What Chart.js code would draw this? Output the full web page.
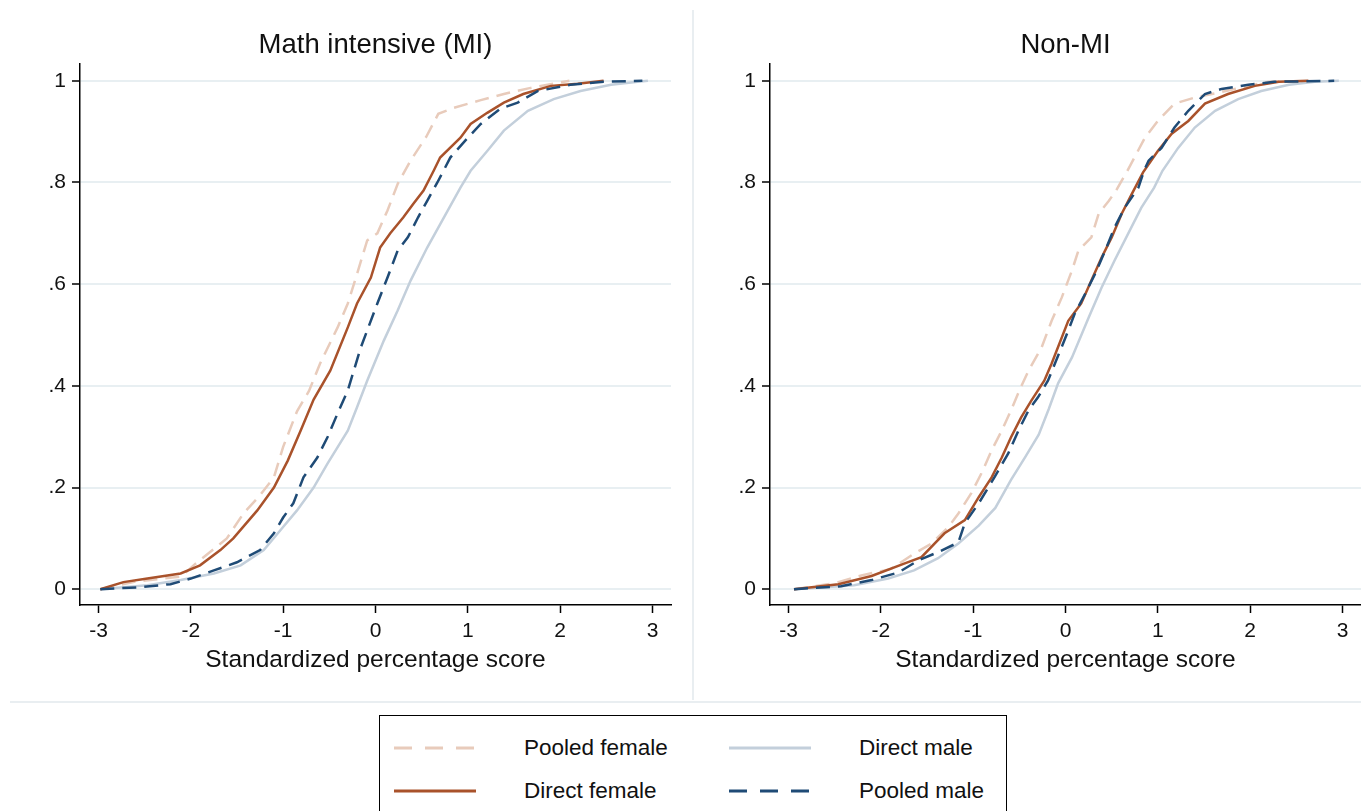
<!DOCTYPE html>
<html>
<head>
<meta charset="utf-8">
<title>CDF of standardized percentage score</title>
<script src="https://cdn.jsdelivr.net/npm/chart.js@4.4.1/dist/chart.umd.min.js"></script>
<style>
    body { margin: 0; background: #fff; font-family: "Liberation Sans", Arial, sans-serif; }
    #page { position: relative; width: 1361px; height: 811px; overflow: hidden; background: #fff; }
    .panel { position: absolute; top: 0; height: 700px; }
    #left { left: 0; width: 693px; }
    #right { left: 693px; width: 668px; }
    #vdiv { position: absolute; left: 692px; top: 10px; width: 2px; height: 690px; background: #e9eef1; }
    #hdiv { position: absolute; left: 10px; top: 701px; width: 1351px; height: 2px; background: #e9eef1; }
    #legend { position: absolute; left: 379px; top: 715px; width: 628px; height: 120px;
              border: 1.5px solid #000; box-sizing: border-box; }
    .legend-item { position: absolute; height: 30px; font-size: 22.5px; color: #111; }
    .legend-item svg { position: absolute; left: 0; top: 0; }
    .legend-item span { position: absolute; left: 130px; top: 2px; white-space: nowrap; }
</style>
</head>
<body>
<div id="page">
    <div class="panel" id="left"><canvas id="chartMI"></canvas></div>
    <div class="panel" id="right"><canvas id="chartNonMI"></canvas></div>
    <div id="vdiv"></div>
    <div id="hdiv"></div>
    <div id="legend"></div>
</div>
<script>
// Achsen
const xTicks = [-3, -2, -1, 0, 1, 2, 3];
const yTicks = [0, 0.2, 0.4, 0.6, 0.8, 1];
const yTickLabels = ['0', '.2', '.4', '.6', '.8', '1'];

// Math intensive (MI): [score, kumulierter Anteil]
const miPooledFemale = [[-2.98,0],[-2.6,0.015],[-2.1,0.025],[-1.97,0.047],[-1.61,0.10],[-1.43,0.149],[-1.25,0.185],[-1.10,0.22],[-1.0,0.28],[-0.85,0.35],[-0.72,0.39],[-0.60,0.444],[-0.41,0.515],[-0.30,0.562],[-0.20,0.62],[-0.09,0.686],[0.02,0.70],[0.13,0.745],[0.24,0.797],[0.38,0.843],[0.55,0.89],[0.68,0.935],[0.85,0.947],[1.14,0.962],[1.39,0.974],[1.68,0.986],[1.97,0.996],[2.1,1.0]];
const miDirectFemale = [[-2.98,0],[-2.73,0.014],[-2.47,0.021],[-2.11,0.031],[-1.90,0.047],[-1.68,0.077],[-1.54,0.10],[-1.28,0.155],[-1.10,0.20],[-0.95,0.253],[-0.81,0.312],[-0.67,0.373],[-0.49,0.43],[-0.30,0.515],[-0.20,0.562],[-0.05,0.613],[0.05,0.672],[0.16,0.70],[0.30,0.731],[0.41,0.758],[0.52,0.784],[0.63,0.823],[0.70,0.849],[0.92,0.888],[1.03,0.915],[1.21,0.937],[1.39,0.957],[1.60,0.974],[1.90,0.99],[2.19,0.994],[2.47,1.0]];
const miDirectMale = [[-2.98,0],[-2.47,0.008],[-2.11,0.018],[-1.75,0.031],[-1.46,0.047],[-1.21,0.077],[-1.03,0.116],[-0.85,0.155],[-0.67,0.20],[-0.52,0.247],[-0.30,0.312],[-0.20,0.358],[-0.09,0.41],[0.09,0.489],[0.24,0.548],[0.38,0.607],[0.56,0.672],[0.74,0.731],[0.92,0.79],[1.03,0.823],[1.21,0.862],[1.39,0.902],[1.65,0.941],[1.93,0.964],[2.22,0.98],[2.55,0.992],[2.84,0.998],[2.95,1.0]];
const miPooledMale = [[-2.98,0],[-2.55,0.004],[-2.22,0.01],[-2.0,0.021],[-1.75,0.037],[-1.50,0.053],[-1.25,0.077],[-1.10,0.11],[-1.0,0.141],[-0.89,0.169],[-0.78,0.22],[-0.63,0.259],[-0.52,0.299],[-0.41,0.346],[-0.30,0.391],[-0.16,0.475],[0.02,0.562],[0.13,0.613],[0.24,0.666],[0.35,0.692],[0.46,0.731],[0.56,0.764],[0.67,0.80],[0.81,0.849],[1.0,0.888],[1.14,0.915],[1.35,0.945],[1.54,0.957],[1.76,0.98],[2.11,0.992],[2.47,0.998],[2.89,1.0]];

// Non-MI
const nmPooledFemale = [[-2.94,0],[-2.5,0.012],[-2.21,0.027],[-1.89,0.04],[-1.64,0.07],[-1.45,0.09],[-1.27,0.122],[-1.16,0.149],[-1.02,0.189],[-0.91,0.228],[-0.80,0.273],[-0.69,0.312],[-0.59,0.352],[-0.49,0.395],[-0.40,0.43],[-0.26,0.475],[-0.15,0.528],[-0.04,0.574],[0.07,0.627],[0.14,0.666],[0.28,0.692],[0.36,0.739],[0.47,0.764],[0.55,0.785],[0.67,0.823],[0.86,0.888],[1.0,0.921],[1.18,0.955],[1.40,0.967],[1.69,0.978],[1.98,0.99],[2.2,0.998],[2.4,1.0]];
const nmDirectFemale = [[-2.94,0],[-2.46,0.01],[-2.10,0.026],[-1.74,0.051],[-1.56,0.063],[-1.31,0.11],[-1.09,0.136],[-0.94,0.181],[-0.80,0.22],[-0.69,0.259],[-0.59,0.299],[-0.48,0.338],[-0.37,0.371],[-0.23,0.41],[-0.15,0.444],[0.03,0.528],[0.17,0.562],[0.28,0.607],[0.39,0.652],[0.50,0.692],[0.61,0.739],[0.72,0.778],[0.84,0.82],[1.0,0.862],[1.15,0.896],[1.33,0.921],[1.51,0.955],[1.76,0.974],[2.05,0.99],[2.31,0.998],[2.63,1.0]];
const nmDirectMale = [[-2.94,0],[-2.29,0.008],[-1.92,0.021],[-1.64,0.037],[-1.38,0.061],[-1.16,0.09],[-0.94,0.125],[-0.76,0.16],[-0.59,0.215],[-0.44,0.259],[-0.29,0.304],[-0.18,0.355],[-0.08,0.405],[0.07,0.456],[0.25,0.534],[0.39,0.593],[0.53,0.646],[0.68,0.70],[0.82,0.75],[0.96,0.79],[1.05,0.823],[1.22,0.868],[1.40,0.908],[1.62,0.941],[1.87,0.964],[2.12,0.98],[2.42,0.992],[2.70,0.998],[2.96,1.0]];
const nmPooledMale = [[-2.94,0],[-2.43,0.006],[-2.10,0.018],[-1.81,0.033],[-1.59,0.057],[-1.38,0.073],[-1.16,0.092],[-1.09,0.13],[-0.94,0.169],[-0.77,0.22],[-0.62,0.267],[-0.51,0.312],[-0.40,0.352],[-0.30,0.377],[-0.19,0.41],[0.0,0.495],[0.10,0.542],[0.21,0.58],[0.32,0.62],[0.43,0.666],[0.53,0.711],[0.64,0.75],[0.79,0.79],[0.85,0.823],[0.90,0.843],[1.04,0.868],[1.18,0.908],[1.33,0.941],[1.51,0.974],[1.69,0.984],[1.98,0.992],[2.26,0.998],[2.91,1.0]];

// Reihenfolge wie in der Legende (zeilenweise, 2 Spalten)
const SERIES = [
    { label: 'Pooled female', color: '#e8cbbb', dash: [14, 8], order: 4 },
    { label: 'Direct male',   color: '#c3cfdb', dash: [],      order: 3 },
    { label: 'Direct female', color: '#a9522b', dash: [],      order: 2 },
    { label: 'Pooled male',   color: '#1f4b76', dash: [14, 8], order: 1 }
];

const FONT = '"Liberation Sans", Arial, sans-serif';

function makePanel(canvasId, title, seriesData, axisWidth, padRight) {
    const datasets = SERIES.map((s, i) => ({
        label: s.label,
        data: seriesData[i].map(p => ({ x: p[0], y: p[1] })),
        borderColor: s.color,
        borderWidth: 2.5,
        borderDash: s.dash,
        pointRadius: 0,
        tension: 0,
        fill: false,
        order: s.order
    }));

    return new Chart(document.getElementById(canvasId), {
        type: 'line',
        data: { datasets },
        options: {
            responsive: true,
            maintainAspectRatio: false,
            animation: false,
            layout: { padding: { right: padRight, bottom: 25 } },
            plugins: {
                legend: { display: false },
                tooltip: { enabled: false },
                title: {
                    display: true,
                    fullSize: false, // über der Plotfläche zentrieren
                    text: title,
                    color: '#111',
                    font: { family: FONT, size: 27.5, weight: 'normal' },
                    padding: { top: 29, bottom: 2 }
                }
            },
            scales: {
                x: {
                    type: 'linear',
                    min: -3.2,
                    max: 3.2,
                    afterBuildTicks: (s) => { s.ticks = xTicks.map(v => ({ value: v })); },
                    afterFit: (s) => { s.height = 70; },
                    ticks: {
                        color: '#111',
                        padding: 6,
                        font: { family: FONT, size: 21 },
                        callback: (v) => String(v)
                    },
                    grid: { drawOnChartArea: false, tickColor: '#000', tickLength: 8, tickWidth: 1.5 },
                    border: { display: true, color: '#000', width: 1.5 },
                    title: {
                        display: true,
                        text: 'Standardized percentage score',
                        color: '#111',
                        font: { family: FONT, size: 24.5 },
                        padding: { top: 0, bottom: 0 }
                    }
                },
                y: {
                    type: 'linear',
                    min: -0.031,
                    max: 1.033,
                    afterBuildTicks: (s) => { s.ticks = yTicks.map(v => ({ value: v })); },
                    afterFit: (s) => { s.width = axisWidth; },
                    ticks: {
                        color: '#111',
                        padding: 6,
                        font: { family: FONT, size: 21 },
                        callback: (v) => yTickLabels[yTicks.indexOf(v)]
                    },
                    grid: { color: '#e8eff2', lineWidth: 2, tickColor: '#000', tickLength: 8, tickWidth: 1.5 },
                    border: { display: true, color: '#000', width: 1.5 }
                }
            }
        }
    });
}

function renderLegend() {
    const box = document.getElementById('legend');
    const slots = [
        { left: 14, top: 17 }, { left: 349, top: 17 },
        { left: 14, top: 60 }, { left: 349, top: 60 }
    ];
    box.innerHTML = SERIES.map((s, i) => {
        const dash = s.dash.length ? 'stroke-dasharray="18 13"' : '';
        return `
            <div class="legend-item" style="left:${slots[i].left}px; top:${slots[i].top}px;">
                <svg width="84" height="30"><line x1="0" y1="15" x2="82" y2="15"
                     stroke="${s.color}" stroke-width="3" ${dash}/></svg>
                <span>${s.label}</span>
            </div>`;
    }).join('');
}

makePanel('chartMI', 'Math intensive (MI)', [miPooledFemale, miDirectMale, miDirectFemale, miPooledMale], 80, 22);
makePanel('chartNonMI', 'Non-MI', [nmPooledFemale, nmDirectMale, nmDirectFemale, nmPooledMale], 77, 0);
renderLegend();
</script>
</body>
</html>
